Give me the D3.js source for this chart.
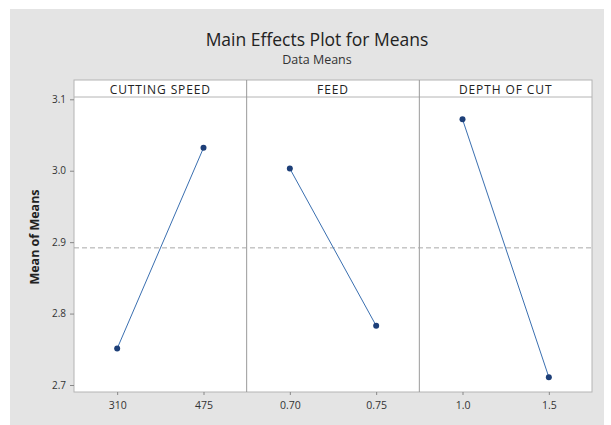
<!DOCTYPE html>
<html>
<head>
<meta charset="utf-8">
<script src="https://cdn.jsdelivr.net/npm/d3@7"></script>
<style>
  body { margin: 0; background: #fff; }
  text { font-family: "Open Sans", "Noto Sans", sans-serif; }
</style>
</head>
<body>
<div id="chart"></div>
<script>
// factors and their levels
const factors = ["CUTTING SPEED", "FEED", "DEPTH OF CUT"]
const levels = [["310", "475"], ["0.70", "0.75"], ["1.0", "1.5"]]
// mean of means for each level
const means = [[2.751, 3.032], [3.003, 2.783], [3.072, 2.711]]
const yTicks = [2.7, 2.8, 2.9, 3.0, 3.1]

const width = 611
const height = 425

const svg = d3.select("#chart")
  .append("svg")
    .attr("width", width)
    .attr("height", height)

// grey backdrop
svg.append("rect")
  .attr("x", 10).attr("y", 9)
  .attr("width", 594).attr("height", 416)
  .attr("fill", "#e4e4e4")

// plot area
const plotLeft = 74, plotRight = 592
const headTop = 80, plotTop = 97, plotBottom = 392

const panel = d3.scaleBand()
  .domain(factors)
  .range([plotLeft, plotRight])

const y = d3.scaleLinear()
  .domain([2.7, 3.1])
  .range([385, 99.3])

// white panels + header strip
svg.append("rect")
  .attr("x", plotLeft).attr("y", headTop)
  .attr("width", plotRight - plotLeft).attr("height", plotBottom - headTop)
  .attr("fill", "#fff")
  .attr("stroke", "#b4b4b4")

svg.append("line")
  .attr("x1", plotLeft).attr("x2", plotRight)
  .attr("y1", plotTop).attr("y2", plotTop)
  .attr("stroke", "#b4b4b4")

factors.slice(1).forEach(f => {
  svg.append("line")
    .attr("x1", panel(f)).attr("x2", panel(f))
    .attr("y1", headTop).attr("y2", plotBottom)
    .attr("stroke", "#9a9a9a")
})

// grand mean reference line
const grand = d3.mean(means.flat())
svg.append("line")
  .attr("x1", plotLeft).attr("x2", plotRight)
  .attr("y1", y(grand)).attr("y2", y(grand))
  .attr("stroke", "#a8a8a8")
  .attr("stroke-dasharray", "5,3")

// y axis
const yAxis = svg.append("g")
  .attr("transform", `translate(${plotLeft},0)`)
  .call(d3.axisLeft(y).tickValues(yTicks).tickFormat(d3.format(".1f")).tickSize(4).tickPadding(4))
yAxis.select(".domain").remove()
yAxis.selectAll("line").attr("stroke", "#888")
yAxis.selectAll("text").attr("fill", "#333").style("font-size", "10px")

svg.append("text")
  .attr("transform", "translate(39,237) rotate(-90)")
  .attr("text-anchor", "middle")
  .style("font-size", "12.5px")
  .style("font-weight", "bold")
  .attr("fill", "#222")
  .text("Mean of Means")

// each factor panel
factors.forEach((f, i) => {
  const x = d3.scalePoint()
    .domain(levels[i])
    .range([panel(f), panel(f) + panel.bandwidth()])
    .padding(0.5)

  svg.append("text")
    .attr("x", panel(f) + panel.bandwidth() / 2)
    .attr("y", 93.5)
    .attr("text-anchor", "middle")
    .style("font-size", "12px")
    .style("letter-spacing", "0.9px")
    .attr("fill", "#222")
    .text(f)

  const xAxis = svg.append("g")
    .attr("transform", `translate(0,${plotBottom})`)
    .call(d3.axisBottom(x).tickSize(3).tickPadding(7))
  xAxis.select(".domain").remove()
  xAxis.selectAll("line").attr("stroke", "#888")
  xAxis.selectAll("text").attr("fill", "#333").style("font-size", "10.5px")

  const pts = levels[i].map((l, j) => ({ lvl: l, v: means[i][j] }))

  svg.append("path")
    .datum(pts)
    .attr("fill", "none")
    .attr("stroke", "#3a6fb0")
    .attr("stroke-width", 1)
    .attr("d", d3.line().x(d => x(d.lvl)).y(d => y(d.v)))

  svg.selectAll(null)
    .data(pts)
    .join("circle")
    .attr("cx", d => x(d.lvl))
    .attr("cy", d => y(d.v))
    .attr("r", 3)
    .attr("fill", "#1d3f78")
})

// titles
svg.append("text")
  .attr("x", 317).attr("y", 46)
  .attr("text-anchor", "middle")
  .style("font-size", "17.5px")
  .attr("fill", "#222")
  .text("Main Effects Plot for Means")

svg.append("text")
  .attr("x", 317).attr("y", 64)
  .attr("text-anchor", "middle")
  .style("font-size", "12.5px")
  .attr("fill", "#333")
  .text("Data Means")
</script>
</body>
</html>
